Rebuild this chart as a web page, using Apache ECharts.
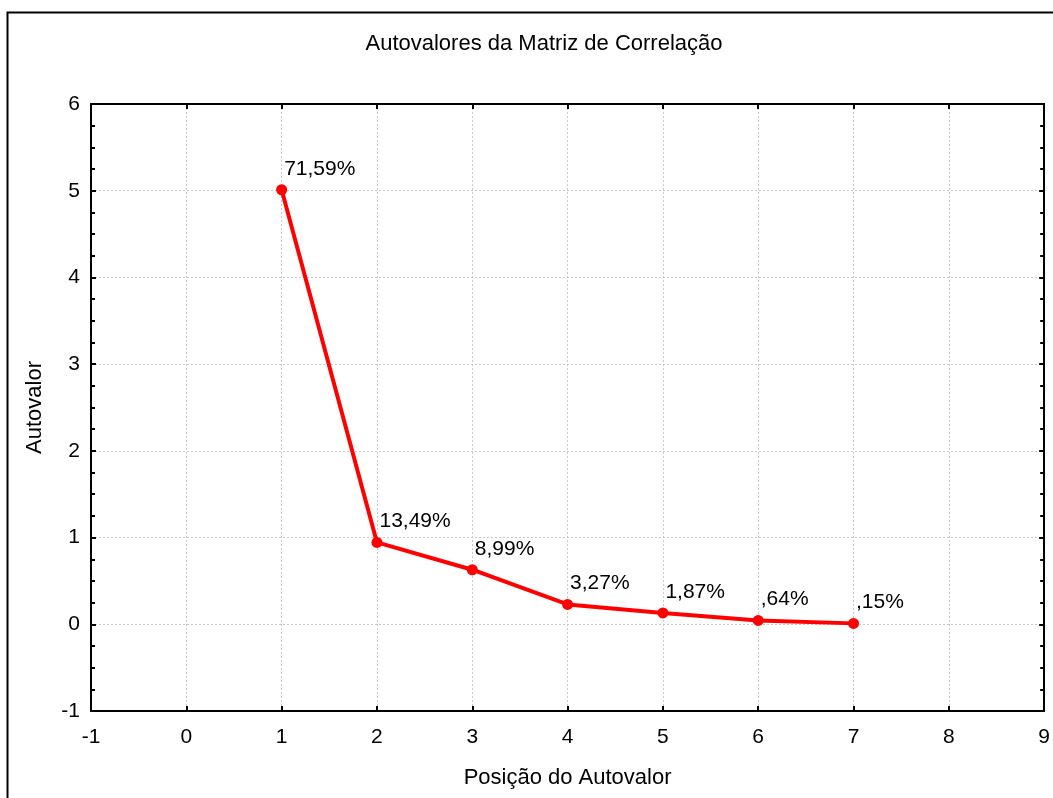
<!DOCTYPE html>
<html>
<head>
<meta charset="utf-8">
<script src="https://cdn.jsdelivr.net/npm/echarts@6/dist/echarts.min.js"></script>
<style>
html,body{margin:0;padding:0;background:#fff;}
#chart{width:1053px;height:798px;}
</style>
</head>
<body>
<div id="chart"></div>
<script>
const positions = [1, 2, 3, 4, 5, 6, 7];
const eigenvalues = [5.011, 0.944, 0.629, 0.229, 0.131, 0.045, 0.0105];
const pctLabels = ['71,59%', '13,49%', '8,99%', '3,27%', '1,87%', ',64%', ',15%'];
const xTicks = [-1, 0, 1, 2, 3, 4, 5, 6, 7, 8, 9];
const yTicks = [-1, 0, 1, 2, 3, 4, 5, 6];

const FONT = '"Liberation Sans", Arial, sans-serif';
const chart = echarts.init(document.getElementById('chart'), null, {renderer: 'canvas'});

const data = positions.map((p, i) => [p, eigenvalues[i]]);

const axisLine = {show: true, onZero: false, lineStyle: {color: '#000', width: 2}};
const splitLine = {show: true, lineStyle: {color: '#c8c8c8', width: 1, type: [2, 2]}};

chart.setOption({
  animation: false,
  backgroundColor: '#fff',
  title: {
    text: 'Autovalores da Matriz de Correlação',
    left: 539,
    top: 28,
    textAlign: 'center',
    textStyle: {fontFamily: FONT, fontSize: 22, fontWeight: 'normal', color: '#000'}
  },
  graphic: [{
    type: 'rect',
    left: 5, top: 10,
    shape: {width: 1100, height: 900},
    style: {fill: null, stroke: '#000', lineWidth: 2},
    silent: true
  }],
  grid: {left: 91, top: 104, width: 955, height: 607, containLabel: false},
  xAxis: [{
    type: 'value',
    min: xTicks[0], max: xTicks[xTicks.length - 1], interval: 1,
    position: 'bottom',
    axisLine: axisLine,
    axisTick: {show: true, inside: true, length: 5, lineStyle: {color: '#000', width: 2}},
    axisLabel: {fontFamily: FONT, fontSize: 21, color: '#000', margin: 16},
    splitLine: splitLine,
    name: 'Posição do Autovalor',
    nameLocation: 'middle',
    nameGap: 56,
    nameTextStyle: {fontFamily: FONT, fontSize: 22, color: '#000'}
  }, {
    type: 'value',
    min: xTicks[0], max: xTicks[xTicks.length - 1], interval: 1,
    position: 'top',
    axisLine: axisLine,
    axisTick: {show: true, inside: true, length: 5, lineStyle: {color: '#000', width: 2}},
    axisLabel: {show: false},
    splitLine: {show: false}
  }],
  yAxis: [{
    type: 'value',
    min: yTicks[0], max: yTicks[yTicks.length - 1], interval: 1,
    position: 'left',
    axisLine: axisLine,
    axisTick: {show: true, inside: true, length: 5, lineStyle: {color: '#000', width: 2}},
    minorTick: {show: true, splitNumber: 4, length: 4, lineStyle: {color: '#000', width: 2}},
    axisLabel: {fontFamily: FONT, fontSize: 21, color: '#000', margin: 11},
    splitLine: splitLine,
    name: 'Autovalor',
    nameLocation: 'middle',
    nameGap: 45,
    nameTextStyle: {fontFamily: FONT, fontSize: 22, color: '#000'}
  }, {
    type: 'value',
    min: yTicks[0], max: yTicks[yTicks.length - 1], interval: 1,
    position: 'right',
    axisLine: axisLine,
    axisTick: {show: true, inside: true, length: 5, lineStyle: {color: '#000', width: 2}},
    minorTick: {show: true, splitNumber: 4, length: 4, lineStyle: {color: '#000', width: 2}},
    axisLabel: {show: false},
    splitLine: {show: false}
  }],
  series: [{
    type: 'line',
    xAxisIndex: 0, yAxisIndex: 0,
    data: data,
    symbol: 'circle',
    symbolSize: 11,
    lineStyle: {color: '#ff0000', width: 4},
    itemStyle: {color: '#ff0000'},
    label: {
      show: true,
      position: 'right',
      distance: 0,
      offset: [-3, -21],
      align: 'left',
      fontFamily: FONT,
      fontSize: 21,
      color: '#000',
      formatter: p => pctLabels[p.dataIndex]
    }
  }]
});
</script>
</body>
</html>
